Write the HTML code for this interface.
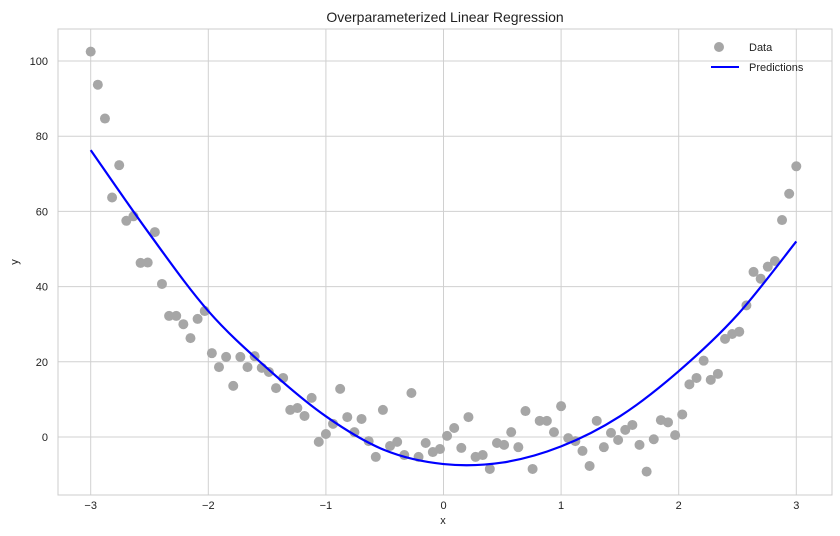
<!DOCTYPE html>
<html><head><meta charset="utf-8"><style>
body{margin:0;background:#fff;}
svg{display:block;font-family:"Liberation Sans","DejaVu Sans",sans-serif;}
</style></head><body>
<svg id="chart" width="840" height="536">
<text x="445" y="22" text-anchor="middle" font-size="14" fill="#222">Overparameterized Linear Regression</text>
<g id="grid"></g>
<rect x="58" y="29" width="774" height="466" fill="none" stroke="#cccccc" stroke-width="1"/>
<g id="ticks"></g>
<g id="marks"></g>
<text x="443" y="524" text-anchor="middle" font-size="11" fill="#222">x</text>
<text x="18" y="262" text-anchor="middle" font-size="11" fill="#222" transform="rotate(-90 18 262)">y</text>
<g>
<g><circle cx="719" cy="47" r="5" fill="#a6a6a6"/><text x="749" y="51" font-size="11" fill="#222">Data</text></g>
<g><line x1="711" y1="67" x2="739" y2="67" stroke="#0000ff" stroke-width="2"/><text x="749" y="71" font-size="11" fill="#222">Predictions</text></g>
</g>
</svg>
<script>
const dataY=[102.5,93.7,84.7,63.7,72.3,57.5,58.7,46.3,46.4,54.5,40.7,32.2,32.2,30,26.3,31.4,33.5,22.3,18.6,21.3,13.6,21.3,18.6,21.5,18.4,17.3,13,15.7,7.2,7.7,5.6,10.4,-1.3,0.8,3.5,12.8,5.3,1.3,4.8,-1.1,-5.3,7.2,-2.4,-1.3,-4.8,11.7,-5.3,-1.6,-4.0,-3.2,0.3,2.4,-2.9,5.3,-5.3,-4.8,-8.5,-1.6,-2.1,1.3,-2.7,6.9,-8.5,4.3,4.3,1.3,8.2,-0.3,-1.1,-3.7,-7.7,4.3,-2.7,1.1,-0.8,1.9,3.2,-2.1,-9.2,-0.6,4.5,3.9,0.5,6.0,14,15.7,20.3,15.2,16.8,26.1,27.4,28,35,43.9,42.1,45.3,46.8,57.7,64.7,72];
const xMin=-3, xMax=3;
const predX=[-3,-2.5,-2,-1.5,-1,-0.5,0,0.5,1,1.5,2,2.5,3];
const predY=[76.3,54,33.5,18.3,5.5,-3.5,-7.2,-6.8,-2.5,5.5,17.5,32.5,52];
const xTicks=[-3,-2,-1,0,1,2,3];
const yTicks=[0,20,40,60,80,100];
const NS="http://www.w3.org/2000/svg";
const sx=v=>443.5+v*117.6;
const sy=v=>437-v*3.76;
const grid=document.getElementById('grid'),ticks=document.getElementById('ticks'),marks=document.getElementById('marks');
function mk(tag,attrs,parent){const e=document.createElementNS(NS,tag);for(const k in attrs)e.setAttribute(k,attrs[k]);parent.appendChild(e);return e;}
const fmt=v=>v<0?'\u2212'+Math.abs(v):String(v);
xTicks.forEach(t=>{
 const g=mk('line',{x1:sx(t),x2:sx(t),y1:29,y2:495,stroke:'#d0d0d0','stroke-width':1},grid);
 
 
 const l=mk('text',{x:sx(t),y:509,'text-anchor':'middle','font-size':11,fill:'#222'},ticks);
 l.textContent=fmt(t);
 
 
});
yTicks.forEach(t=>{
 const g=mk('line',{x1:58,x2:832,y1:sy(t),y2:sy(t),stroke:'#d0d0d0','stroke-width':1},grid);
 
 
 const l=mk('text',{x:48,y:sy(t)+4,'text-anchor':'end','font-size':11,fill:'#222'},ticks);
 l.textContent=fmt(t);
 
 
});
const n=dataY.length;
dataY.forEach((v,i)=>{
 const x=xMin+(xMax-xMin)*i/(n-1);
 const c=mk('circle',{cx:sx(x),cy:sy(v),r:5,fill:'#a6a6a6'},marks);
 
 
});
let d='M'+sx(predX[0])+','+sy(predY[0]);
for(let i=0;i<predX.length-1;i++){
 const p0=i>0?i-1:i,p3=i+2<predX.length?i+2:i+1;
 const X=k=>sx(predX[k]),Y=k=>sy(predY[k]);
 const c1x=X(i)+(X(i+1)-X(p0))/6,c1y=Y(i)+(Y(i+1)-Y(p0))/6;
 const c2x=X(i+1)-(X(p3)-X(i))/6,c2y=Y(i+1)-(Y(p3)-Y(i))/6;
 d+=' C'+c1x+','+c1y+' '+c2x+','+c2y+' '+X(i+1)+','+Y(i+1);
}
const p=mk('path',{d:d,fill:'none',stroke:'#0000ff','stroke-width':2.2},marks);


</script>
</body></html>
